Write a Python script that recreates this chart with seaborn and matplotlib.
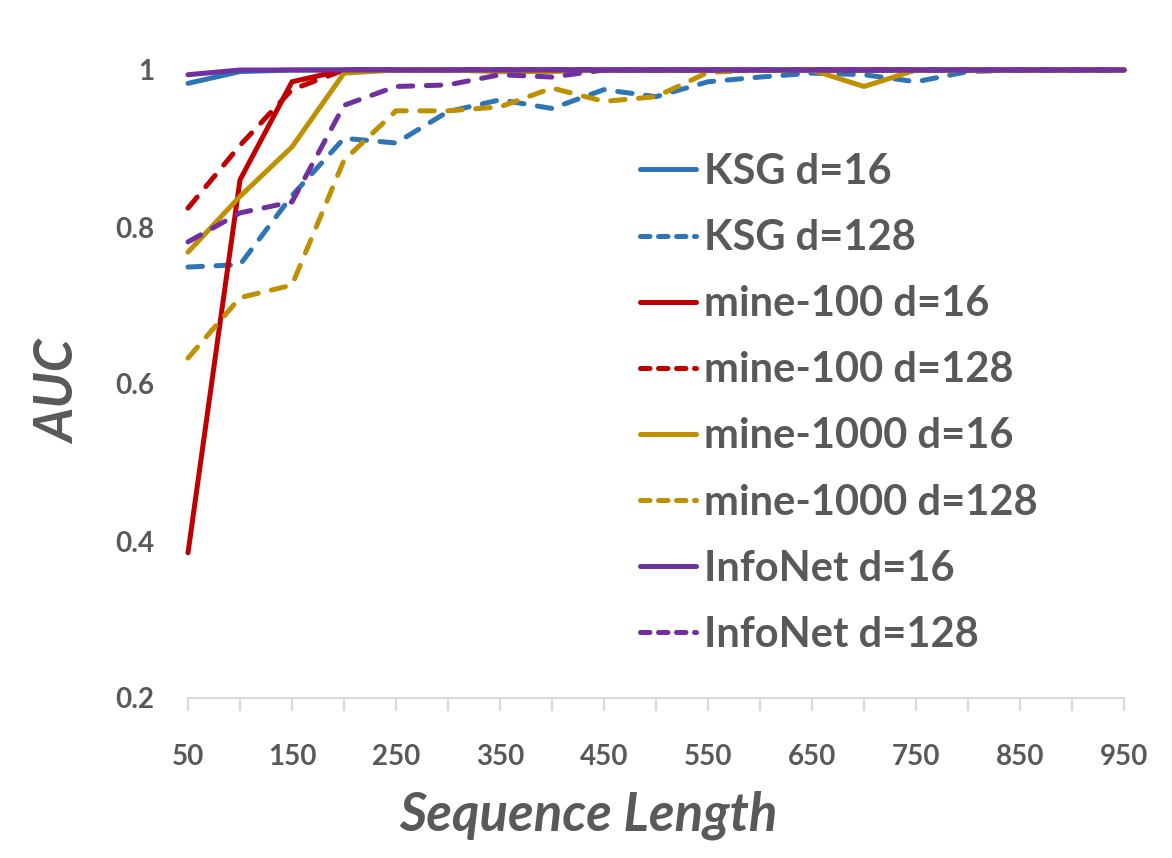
import numpy as np
import pandas as pd
import matplotlib
matplotlib.use("Agg")
import matplotlib.pyplot as plt
import seaborn as sns

seq_len = [50, 100, 150, 200, 250, 300, 350, 400, 450, 500, 550, 600, 650, 700, 750, 800, 850, 900, 950]
ksg_16 = [0.983, 0.998, 1.0, 1.0, 1.0, 1.0, 1.0, 1.0, 1.0, 1.0, 1.0, 1.0, 1.0, 1.0, 1.0, 1.0, 1.0, 1.0, 1.0]
ksg_128 = [0.749, 0.752, 0.84, 0.913, 0.907, 0.947, 0.962, 0.951, 0.975, 0.966, 0.985, 0.991, 0.996, 0.994, 0.985, 0.998, 1.0, 1.0, 1.0]
mine100_16 = [0.385, 0.86, 0.985, 1.0, 1.0, 1.0, 1.0, 1.0, 1.0, 1.0, 1.0, 1.0, 1.0, 1.0, 1.0, 1.0, 1.0, 1.0, 1.0]
mine100_128 = [0.824, 0.904, 0.975, 1.0, 1.0, 1.0, 1.0, 1.0, 1.0, 1.0, 1.0, 1.0, 1.0, 1.0, 1.0, 1.0, 1.0, 1.0, 1.0]
mine1000_16 = [0.768, 0.839, 0.902, 0.996, 1.0, 1.0, 0.998, 0.998, 1.0, 1.0, 1.0, 1.0, 1.0, 0.979, 1.0, 1.0, 1.0, 1.0, 1.0]
mine1000_128 = [0.633, 0.71, 0.726, 0.885, 0.948, 0.948, 0.953, 0.977, 0.96, 0.966, 0.997, 1.0, 1.0, 1.0, 1.0, 1.0, 1.0, 1.0, 1.0]
infonet_16 = [0.994, 1.0, 1.0, 1.0, 1.0, 1.0, 1.0, 1.0, 1.0, 1.0, 1.0, 1.0, 1.0, 1.0, 1.0, 1.0, 1.0, 1.0, 1.0]
infonet_128 = [0.781, 0.818, 0.832, 0.955, 0.979, 0.981, 0.994, 0.991, 1.0, 1.0, 1.0, 1.0, 1.0, 1.0, 1.0, 1.0, 1.0, 1.0, 1.0]

series_names = ["KSG d=16", "KSG d=128", "mine-100 d=16", "mine-100 d=128",
                "mine-1000 d=16", "mine-1000 d=128", "InfoNet d=16", "InfoNet d=128"]
series_values = [ksg_16, ksg_128, mine100_16, mine100_128,
                  mine1000_16, mine1000_128, infonet_16, infonet_128]
y_ticks = [0.2, 0.4, 0.6, 0.8, 1.0]
y_tick_labels = ["0.2", "0.4", "0.6", "0.8", "1"]
x_tick_labels = ["50", "", "150", "", "250", "", "350", "", "450", "", "550", "",
                 "650", "", "750", "", "850", "", "950"]

colors = ["#2E75B6", "#2E75B6", "#C00000", "#C00000", "#BF9000", "#BF9000", "#7030A0", "#7030A0"]
solid = [True, False] * 4

df = pd.DataFrame({
    "Sequence Length": np.tile(seq_len, len(series_names)),
    "AUC": np.concatenate(series_values),
    "series": np.repeat(series_names, len(seq_len)),
})

sns.set_theme(style="white")
plt.rcParams['font.family'] = ['Lato', 'DejaVu Sans']
text_color = "#595959"

fig = plt.figure(figsize=(11.72, 8.58), dpi=100)
ax = fig.add_axes([188 / 1172, 1 - 698 / 858, (1124 - 188) / 1172, (698 - 70) / 858])

lw = 3.6
for name, c, s in zip(series_names, colors, solid):
    sub = df[df["series"] == name]
    sns.lineplot(data=sub, x="Sequence Length", y="AUC", ax=ax, color=c, linewidth=lw,
                 label=name, sort=False, estimator=None)
    line = ax.lines[-1]
    line.set_clip_on(False)
    line.set_solid_capstyle("round")
    line.set_dash_capstyle("round")
    if not s:
        line.set_dashes((2.9, 2.7))

ax.set_xlim(50, 950)
ax.set_ylim(0.2, 1.0)
ax.set_xticks(seq_len)
ax.set_xticklabels(x_tick_labels)
ax.set_yticks(y_ticks)
ax.set_yticklabels(y_tick_labels)

for sp in ["top", "right", "left"]:
    ax.spines[sp].set_visible(False)
ax.spines["bottom"].set_color("#D9D9D9")
ax.spines["bottom"].set_linewidth(1.5)

ax.tick_params(axis="x", direction="out", length=9, width=1.5, color="#D9D9D9",
               pad=24, labelsize=20, labelcolor=text_color, bottom=True)
ax.tick_params(axis="y", length=0, pad=24, labelsize=20, labelcolor=text_color)
for t in ax.get_xticklabels() + ax.get_yticklabels():
    t.set_fontweight("bold")

ax.set_xlabel("")
ax.set_ylabel("")
fig.text(588 / 1172, 1 - 815 / 858, "Sequence Length", ha="center", va="center",
         fontsize=38, fontweight="bold", fontstyle="italic", color=text_color)
fig.text(60 / 1172, 1 - 392 / 858, "AUC", ha="center", va="center", rotation=90,
         fontsize=38, fontweight="bold", fontstyle="italic", color=text_color)

handles, labels = ax.get_legend_handles_labels()
leg = ax.legend(handles, labels, loc="upper left", bbox_to_anchor=(640 / 1172, 1 - 153 / 858),
                bbox_transform=fig.transFigure, frameon=False, fontsize=30,
                handlelength=1.35, handletextpad=0.18, labelspacing=0.675,
                borderpad=0, borderaxespad=0)
for t in leg.get_texts():
    t.set_color(text_color)
    t.set_fontweight("bold")
for h, s in zip(leg.get_lines(), solid):
    h.set_linewidth(lw)
    h.set_solid_capstyle("round")
    h.set_dash_capstyle("round")
    if not s:
        h.set_dashes((1.9, 1.7))

fig.savefig("out.png", dpi=100)
